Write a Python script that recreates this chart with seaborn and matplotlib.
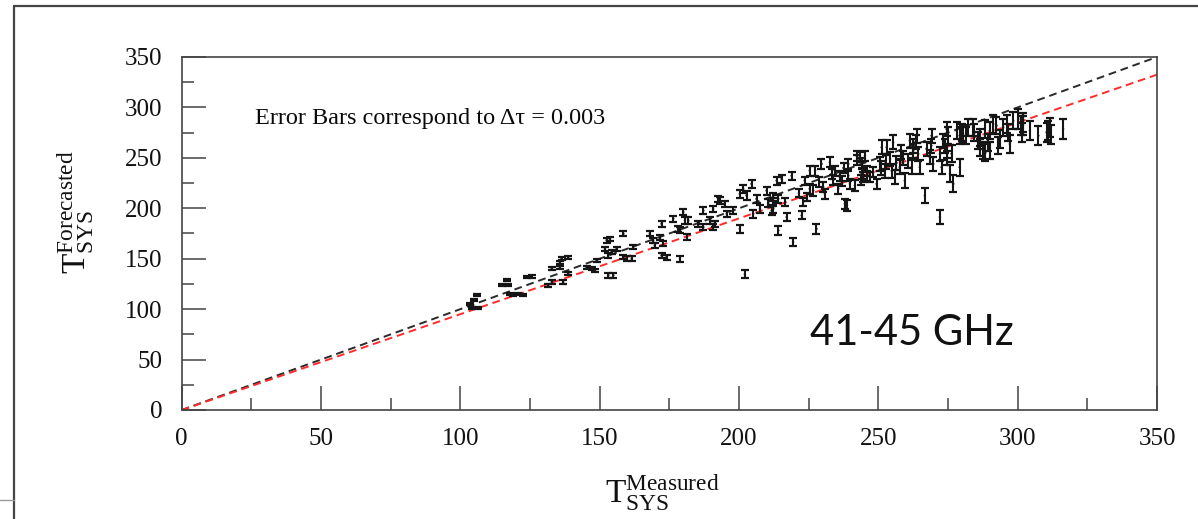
import matplotlib
matplotlib.use("Agg")
import matplotlib.pyplot as plt
import seaborn as sns
from matplotlib.lines import Line2D
from matplotlib.ticker import MultipleLocator

# ---------------- data ----------------
measured = [
    103.4, 104.1, 106.3, 106.0, 104.9,
    116.6, 114.8, 117.2, 117.8, 119.0, 120.8, 122.6, 123.8, 125.6,
    131.5, 132.8, 132.8, 135.7, 136.3, 135.7, 138.7, 136.9, 138.7, 145.3, 147.1, 148.3, 148.9,
    153.1, 154.9, 152.5, 153.7, 151.9, 154.3, 156.1, 153.1, 158.5, 158.5, 159.7, 161.5, 162.0,
    168.0, 169.2, 169.8, 171.6, 172.8, 172.2, 174.0,
    172.2, 176.4, 178.8, 178.8, 180.0, 180.6, 181.8, 178.2, 181.2, 185.4, 187.2, 187.2, 189.6,
    190.7, 191.3, 192.5, 193.1, 190.7, 194.9, 195.6, 197.9,
    200.3, 201.5, 202.7, 204.5, 206.3, 205.1, 207.5, 200.3, 202.1, 209.9, 212.3, 213.5, 214.1, 212.3,
    212.3, 211.7, 214.1, 215.3, 216.5, 218.9, 217.1, 219.4, 222.5, 223.0, 224.3, 223.6,
    210.5, 221.5,
    225.4, 225.4, 227.3, 226.6, 227.8, 229.6, 230.2, 230.8, 232.6, 233.2, 234.4, 235.6, 236.2,
    236.8, 238.0, 238.6, 239.2, 239.2, 239.8, 241.6, 242.2, 243.4, 244.0, 244.6, 245.2, 245.8,
    247.0, 248.2, 249.4,
    228.8, 233.8, 237.5, 242.5, 244.0, 243.8, 245.8,
    250.6, 251.2, 252.3, 253.0, 254.2, 255.3, 254.8, 255.9, 257.7, 258.3, 259.5, 260.7, 261.3,
    262.5, 261.9, 263.7, 264.3, 264.9, 266.7, 267.3, 268.5, 269.1, 269.7, 272.1, 272.7, 272.1,
    273.3, 274.5, 274.5,
    250.8, 252.6, 256.5, 258.8, 262.6, 263.4, 269.0, 274.0, 274.8,
    275.1, 276.3, 276.9, 279.2, 275.7, 278.1, 279.2, 280.4, 282.2, 284.0, 285.8, 286.4, 287.6,
    288.2, 290.0, 290.0, 291.2, 292.4, 293.6, 294.8, 296.0, 297.2, 298.4,
    280.0, 281.4, 284.5, 286.5, 288.4, 289.4, 293.0, 296.5,
    300.2, 301.4, 301.9, 304.4, 307.4, 310.4, 311.6, 316.3,
    301.2, 302.0, 310.8, 311.8,
]
forecasted = [
    105.5, 100.9, 100.9, 113.7, 108.8,
    128.6, 123.6, 123.6, 115.4, 113.7, 115.4, 113.7, 131.9, 131.9,
    123.6, 126.9, 140.2, 141.7, 150.0, 146.7, 151.6, 126.9, 135.2, 141.7, 140.2, 138.5, 148.4,
    133.5, 133.5, 168.2, 169.8, 159.9, 156.6, 159.9, 153.3, 174.8, 151.6, 150.0, 150.0, 161.5,
    174.8, 168.2, 163.2, 171.4, 164.9, 153.3, 151.6,
    184.7, 189.6, 178.0, 150.0, 196.1, 187.9, 187.9, 179.7, 171.4, 184.7, 197.8, 181.3, 187.9,
    181.3, 184.7, 209.4, 207.7, 199.5, 204.5, 194.6, 197.8,
    214.3, 219.3, 212.7, 224.2, 209.4, 194.6, 199.5, 179.7, 134.5, 217.6, 211.0, 227.5, 178.0, 199.5,
    206.0, 197.8, 209.4, 229.2, 206.0, 232.4, 191.2, 166.5, 192.9, 206.0, 211.0, 227.5,
    205.0, 215.0,
    237.4, 219.3, 237.4, 217.6, 179.7, 244.0, 220.9, 214.3, 245.6, 234.1, 237.4, 219.3, 232.4,
    227.5, 204.5, 202.8, 244.0, 232.4, 224.2, 222.6, 252.2, 250.5, 234.1, 230.8, 252.2, 237.4,
    230.8, 235.7, 224.2,
    226.0, 228.0, 240.0, 248.0, 245.0, 228.0, 232.0,
    244.0, 260.4, 237.4, 260.4, 249.0, 265.4, 237.4, 230.8, 240.7, 255.5, 227.5, 247.3, 267.1,
    257.2, 240.7, 272.0, 253.9, 240.7, 212.7, 259.0, 250.5, 272.0, 244.0, 191.2, 240.7, 253.9,
    267.1, 278.6, 257.2,
    240.0, 246.0, 245.0, 250.0, 262.0, 266.0, 262.0, 262.0, 250.0,
    272.0, 253.9, 224.2, 240.7, 234.1, 276.9, 272.0, 273.7, 280.2, 280.2, 267.1, 260.4, 257.2,
    278.6, 276.9, 257.2, 283.6, 281.9, 268.7, 280.2, 283.6, 263.8, 286.8,
    275.0, 272.0, 275.0, 270.0, 255.0, 265.0, 262.0, 275.0,
    288.5, 275.3, 281.9, 276.9, 272.0, 275.3, 280.2, 278.6,
    282.0, 285.0, 277.0, 273.0,
]
errors = [
    1.0, 1.0, 1.0, 1.0, 1.0,
    1.0, 1.0, 1.0, 1.0, 1.0, 1.0, 1.0, 1.0, 1.5,
    1.5, 1.5, 1.5, 1.5, 1.5, 1.5, 1.5, 1.5, 1.5, 1.5, 1.5, 1.5, 1.5,
    2.2, 2.2, 2.2, 2.2, 2.2, 2.2, 2.2, 2.2, 2.2, 2.2, 2.2, 2.2, 2.2,
    2.5, 2.5, 2.5, 2.5, 2.5, 2.5, 2.5,
    3.0, 3.0, 3.0, 3.0, 3.0, 3.0, 3.0, 3.0, 3.0, 3.0, 3.0, 3.0, 3.0,
    3.0, 3.0, 3.0, 3.0, 3.0, 3.0, 3.0, 3.0,
    4.0, 4.0, 4.0, 4.0, 4.0, 4.0, 4.0, 4.0, 4.0, 4.0, 4.0, 4.0, 4.0, 4.0,
    4.0, 4.0, 4.0, 4.0, 4.0, 4.0, 4.0, 4.0, 4.0, 4.0, 4.0, 4.0,
    4.0, 4.0,
    5.0, 5.0, 5.0, 5.0, 5.0, 5.0, 5.0, 5.0, 5.0, 5.0, 5.0, 5.0, 5.0,
    5.0, 5.0, 5.0, 5.0, 5.0, 5.0, 5.0, 5.0, 5.0, 5.0, 5.0, 5.0, 5.0,
    5.0, 5.0, 5.0,
    5.0, 5.0, 5.0, 5.0, 5.0, 5.0, 5.0,
    7.0, 7.0, 7.0, 7.0, 7.0, 7.0, 7.0, 7.0, 7.0, 7.0, 7.0, 7.0, 7.0,
    7.0, 7.0, 7.0, 7.0, 7.0, 7.0, 7.0, 7.0, 7.0, 7.0, 7.0, 7.0, 7.0,
    7.0, 7.0, 7.0,
    7.0, 7.0, 7.0, 7.0, 7.0, 7.0, 7.0, 7.0, 7.0,
    8.5, 8.5, 8.5, 8.5, 8.5, 8.5, 8.5, 8.5, 8.5, 8.5, 8.5, 8.5, 8.5,
    8.5, 8.5, 8.5, 8.5, 8.5, 8.5, 8.5, 8.5, 8.5, 8.5,
    8.5, 8.5, 8.5, 8.5, 8.5, 8.5, 8.5, 8.5,
    9.5, 9.5, 9.5, 9.5, 9.5, 9.5, 9.5, 9.5,
    9.5, 9.5, 9.5, 9.5,
]
line_x = [0, 350]
unity_y = [0, 350]
fit_y = [0, 332.5]
major_ticks = [0, 50, 100, 150, 200, 250, 300, 350]
tick_labels = ["0", "50", "100", "150", "200", "250", "300", "350"]
annotation = "Error Bars correspond to \u0394\u03c4 = 0.003"
band_label = "41-45 GHz"

# ---------------- style ----------------
sns.set_theme(style="white")
plt.rcParams["font.family"] = ["Liberation Serif", "DejaVu Serif"]
plt.rcParams["mathtext.fontset"] = "custom"
plt.rcParams["mathtext.rm"] = "Liberation Serif"
plt.rcParams["mathtext.it"] = "Liberation Serif:italic"

W, H = 1198, 519
fig = plt.figure(figsize=(W / 100, H / 100), dpi=100)
fig.patch.set_facecolor("white")

left, right, bottom, top = 181.7, 1157, 410, 57
ax = fig.add_axes([left / W, 1 - bottom / H, (right - left) / W, (bottom - top) / H])

# reference lines
sns.lineplot(x=line_x, y=unity_y, ax=ax, color="#2a2a2a", linewidth=1.4)
sns.lineplot(x=line_x, y=fit_y, ax=ax, color="#ff2a2a", linewidth=1.4)
for ln in ax.lines:
    ln.set_dashes((4, 2.5))

# points with error bars
sns.scatterplot(x=measured, y=forecasted, ax=ax, s=3, color="#111111", edgecolor="none")
ax.errorbar(measured, forecasted, yerr=errors, fmt="none", ecolor="#151515",
            elinewidth=1.5, capsize=2.9, capthick=1.6)

ax.set_xlim(0, 350)
ax.set_ylim(0, 350)
ax.set_xticks(major_ticks)
ax.set_xticklabels(tick_labels)
ax.set_yticks(major_ticks)
ax.set_yticklabels(tick_labels)
ax.xaxis.set_minor_locator(MultipleLocator(25))
ax.yaxis.set_minor_locator(MultipleLocator(25))
ax.tick_params(which="major", direction="in", length=17, width=1.1, color="#444444",
               left=True, bottom=True, top=False, right=False, labelsize=18,
               labelcolor="#111111")
ax.tick_params(axis="y", which="major", pad=14)
ax.tick_params(axis="x", which="major", pad=13)
ax.tick_params(which="minor", direction="in", length=8.5, width=1.1, color="#444444",
               left=True, bottom=True, top=False, right=False)
for sp in ax.spines.values():
    sp.set_visible(True)
    sp.set_color("#444444")
    sp.set_linewidth(1.2)
ax.set_xlabel("")
ax.set_ylabel("")

ax.text(26.3, 289, annotation, fontsize=17.5, va="center", ha="left", color="#0a0a0a")

# axis titles
fig.text(662 / W, 1 - 493 / H, r"$\mathrm{T}_{\mathrm{SYS}}^{\mathrm{Measured}}$",
         ha="center", va="center", fontsize=24, color="#111111")
fig.text(76 / W, 1 - 212 / H, r"$\mathrm{T}_{\mathrm{SYS}}^{\mathrm{Forecasted}}$",
         ha="center", va="center", rotation=90, fontsize=24, color="#111111")

# band label
fig.text(810 / W, 1 - 345 / H, band_label, ha="left", va="baseline", fontsize=30,
         family=["Lato", "DejaVu Sans"], color="#111111")

# outer frame lines
fig.add_artist(Line2D([14 / W, 1.0], [1 - 6 / H, 1 - 6 / H], transform=fig.transFigure,
                      color="#444444", linewidth=1.6))
fig.add_artist(Line2D([14 / W, 14 / W], [1 - 6 / H, 0.0], transform=fig.transFigure,
                      color="#444444", linewidth=1.6))
fig.add_artist(Line2D([0.0, 14 / W], [1 - 500 / H, 1 - 500 / H], transform=fig.transFigure,
                      color="#999999", linewidth=1.0))

fig.savefig("out.png", dpi=100)
